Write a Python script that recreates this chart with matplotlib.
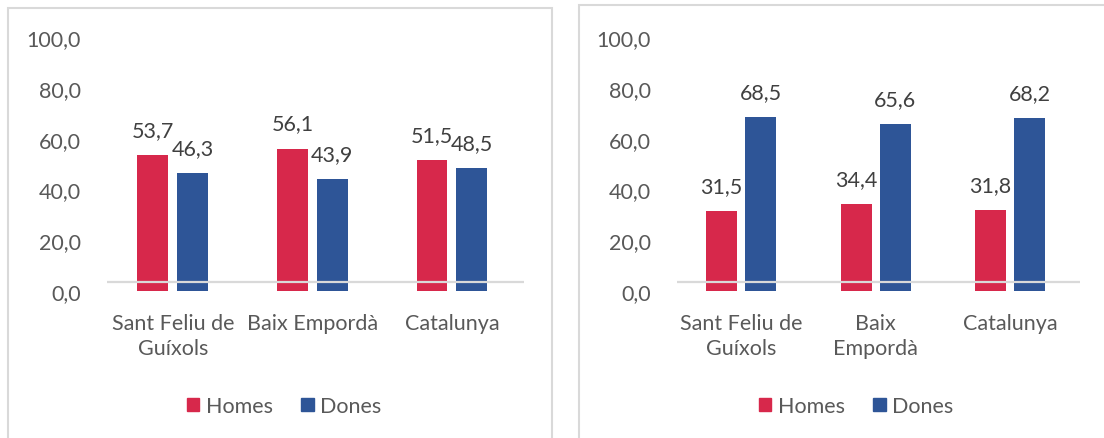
import matplotlib.pyplot as plt
from matplotlib.patches import Rectangle, Patch
import numpy as np

plt.rcParams['font.family'] = ['Lato', 'DejaVu Sans']

# data
cats_left = ["Sant Feliu de\nGuíxols", "Baix Empordà", "Catalunya"]
cats_right = ["Sant Feliu de\nGuíxols", "Baix\nEmpordà", "Catalunya"]
homes_left = [53.7, 56.1, 51.5]
dones_left = [46.3, 43.9, 48.5]
homes_right = [31.5, 34.4, 31.8]
dones_right = [68.5, 65.6, 68.2]
yticks = [0, 20, 40, 60, 80, 100]

RED = "#D7284B"
BLUE = "#2E5597"
TXT = "#404040"
TICK = "#595959"
GRID = "#D9D9D9"
FS = 15.5

W, H = 1104, 439
fig = plt.figure(figsize=(W / 100, H / 100), dpi=100)


def fmt(v):
    return f"{v:.1f}".replace(".", ",")


def panel(x0, x1, xlim, cats, homes, dones, width, off, label_box):
    ax = fig.add_axes([x0 / W, 1 - 292 / H, (x1 - x0) / W, 254 / H])
    x = np.arange(len(cats))
    bh = ax.bar(x - off, homes, width, color=RED)
    bd = ax.bar(x + off, dones, width, color=BLUE)
    ax.set_xlim(*xlim)
    ax.set_ylim(0, 100)
    ax.axhline(3.66, color=GRID, lw=1.6, zorder=3)
    for s in ax.spines.values():
        s.set_visible(False)
    ax.set_yticks(yticks)
    ax.set_yticklabels([fmt(v) for v in yticks])
    ax.set_xticks(x)
    ax.set_xticklabels(cats, linespacing=1.3)
    ax.tick_params(length=0, labelsize=FS, labelcolor=TICK)
    ax.tick_params(axis='y', pad=19)
    ax.tick_params(axis='x', pad=16)
    for rect, v in zip(bh, homes):
        kw = dict(bbox=dict(fc="white", ec="none", pad=2)) if label_box else {}
        ax.annotate(fmt(v), (rect.get_x() + rect.get_width() / 2, v),
                    xytext=(0, 18), textcoords="offset points", ha="center",
                    va="center", fontsize=FS, color=TXT, zorder=5, **kw)
    for rect, v in zip(bd, dones):
        ax.annotate(fmt(v), (rect.get_x() + rect.get_width() / 2, v),
                    xytext=(0, 18), textcoords="offset points", ha="center",
                    va="center", fontsize=FS, color=TXT, zorder=5)
    return ax


panel(107, 524, (-0.471, 2.516), cats_left, homes_left, dones_left, 0.222, 0.143, False)
panel(677, 1080, (-0.476, 2.52), cats_right, homes_right, dones_right, 0.230, 0.145, True)

# panel borders
fig.add_artist(Rectangle((8 / W, -0.05), (552 - 8) / W, 1.05 - 9 / H,
                         transform=fig.transFigure, fill=False, ec=GRID, lw=1.5))
fig.add_artist(Rectangle((579 / W, -0.05), (1110 - 579) / W, 1.05 - 6 / H,
                         transform=fig.transFigure, fill=False, ec=GRID, lw=1.5))

handles = [Patch(color=RED, label="Homes"), Patch(color=BLUE, label="Dones")]
for cx in (284, 856):
    fig.legend(handles=handles, loc="center", bbox_to_anchor=(cx / W, 1 - 407 / H),
               ncol=2, frameon=False, fontsize=FS, labelcolor=TICK,
               handlelength=0.6, handleheight=0.6, handletextpad=0.3,
               columnspacing=1.3)

fig.savefig("out.png", dpi=100)
